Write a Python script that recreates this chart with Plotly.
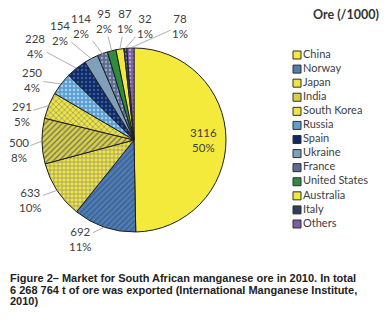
import math
import plotly.graph_objects as go

countries = ["China", "Norway", "Japan", "India", "South Korea", "Russia", "Spain",
             "Ukraine", "France", "United States", "Australia", "Italy", "Others"]
ore_kt = [3116, 692, 633, 500, 291, 250, 228, 154, 114, 95, 87, 32, 78]

colors = ["#F4EA3C", "#4F7DB5", "#EEE545", "#D9D04A", "#EEE545", "#5B9FD3", "#0D2A66",
          "#7F9FBA", "#5C6C92", "#2E8C3F", "#F2E83E", "#2F3C5E", "#7D5DA8"]
pat_shapes = ["", "/", "+", "/", "x", ".", ".", "", ".", "", "", ".", "."]
pat_fg = ["#E0D838", "#3A5A88", "#8A8A70", "#6E6E58", "#8A8A70", "#A8D0F0", "#3A5A98",
          "#7F9FBA", "#9AA6C0", "#2E8C3F", "#F2E83E", "#6A78A0", "#B8A0E0"]

title_text = "Ore (/1000)"
caption_lines = ["Figure 2\u2013 Market for South African manganese ore in 2010. In total",
                 "6 268 764 t of ore was exported (International Manganese Institute,",
                 "2010)"]

# ---- layout / styling (screen pixels; page body has an 8px margin) ----
OFF = 8
W, H = 391 - OFF, 326 - OFF
CX, CY, R = 134, 140, 92
label_pos = [(203, 140), (80, 239), (30, 200), (19, 150), (22, 114), (32, 80), (35, 46),
             (60, 33), (81, 26), (104, 21), (125, 21), (145, 26), (180, 26)]
FONT = "Lato, Open Sans, sans-serif"


def px(sx):
    return (sx - OFF) / W


def py(sy):
    return 1 - (sy - OFF) / H


fig = go.Figure()

total = sum(ore_kt)
pct_txt = [f"{round(100 * v / total):.0f}%" for v in ore_kt]

fig.add_trace(go.Pie(
    labels=countries, values=ore_kt, sort=False, direction="clockwise", rotation=0,
    marker=dict(colors=colors, line=dict(color="#1E1E1E", width=1),
                pattern=dict(shape=pat_shapes, fgcolor=pat_fg, bgcolor=colors,
                             size=4, solidity=0.3)),
    textinfo="none", showlegend=False, hoverinfo="label+value+percent", automargin=False,
    domain=dict(x=[px(CX - R), px(CX + R)], y=[py(CY + R), py(CY - R)]),
))

annotations = []
cum = 0.0
for i, v in enumerate(ore_kt):
    mid = cum + v / 2
    cum += v
    th = 2 * math.pi * mid / total
    lx, ly = label_pos[i]
    txt = f"{v}<br>{pct_txt[i]}"
    fnt = dict(family=FONT, size=11.5, color="#404040")
    if i == 0:
        annotations.append(dict(text=txt, x=px(lx), y=py(ly), xref="paper", yref="paper",
                                showarrow=False, font=fnt, align="center"))
        continue
    ex = CX + R * math.sin(th)
    ey = CY - R * math.cos(th)
    annotations.append(dict(
        text=txt, x=px(ex), y=py(ey), xref="paper", yref="paper",
        ax=lx - ex, ay=ly - ey, axref="pixel", ayref="pixel",
        showarrow=True, arrowhead=0, arrowwidth=0.8, arrowcolor="#999999", standoff=0,
        font=fnt, align="center",
    ))

# legend drawn as a scatter on its own axes
idx = list(range(len(countries)))
fig.add_trace(go.Scatter(
    x=[0] * len(countries), y=idx, mode="markers+text", text=countries,
    textposition="middle right",
    textfont=dict(family=FONT, size=11, color="#404040"),
    marker=dict(symbol="square", size=8, color=colors, line=dict(color="#303030", width=1)),
    xaxis="x2", yaxis="y2", showlegend=False, hoverinfo="text", cliponaxis=False,
))

annotations.append(dict(text="<b>" + title_text + "</b>", x=px(346), y=py(15),
                        xref="paper", yref="paper", showarrow=False,
                        xanchor="center", yanchor="middle",
                        font=dict(family=FONT, size=12.5, color="#333333")))
for k, (line, sy) in enumerate(zip(caption_lines, [278, 290, 301])):
    annotations.append(dict(text="<b>" + line + "</b>", x=px(8), y=py(sy),
                            xref="paper", yref="paper", showarrow=False,
                            xanchor="left", yanchor="middle", align="left",
                            font=dict(family="Liberation Sans, Arial, sans-serif", size=11,
                                      color="#222222")))

# legend axes: square centre at x=297, rows from y=55 to y=224
LX0, LY0, LY1 = 297, 55, 224
step = (LY1 - LY0) / (len(countries) - 1)
fig.update_layout(
    width=W, height=H, margin=dict(l=0, r=0, t=0, b=0, pad=0, autoexpand=False),
    paper_bgcolor="white", plot_bgcolor="white", showlegend=False,
    xaxis=dict(visible=False), yaxis=dict(visible=False),
    xaxis2=dict(domain=[px(LX0), 1], range=[0, 1], visible=False, fixedrange=True, anchor="y2"),
    yaxis2=dict(domain=[py(LY1 + step), py(LY0 - step)], range=[len(countries), -1],
                visible=False, fixedrange=True, anchor="x2"),
    annotations=annotations,
)

fig.write_html("out.html")
